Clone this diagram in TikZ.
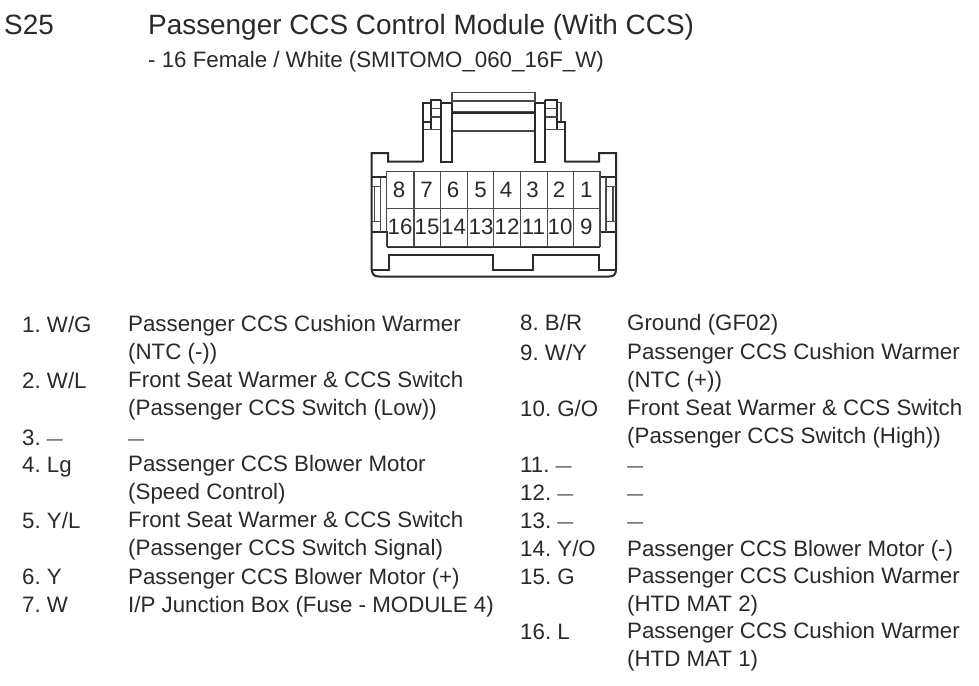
\documentclass[tikz,border=0pt]{standalone}
\usepackage{fontspec}
\setmainfont{Liberation Sans}
\frenchspacing
\definecolor{ink}{HTML}{2A2A2A}
\newcommand{\pindash}{{\fontsize{16}{28}\selectfont\raisebox{1.5pt}{---}}}
\tikzset{
  x=1pt,y=-1pt,
  entry/.style={anchor=north west,inner sep=0pt,align=left,text=ink,font=\fontsize{22.3}{28}\selectfont,execute at begin node=\strut},
  entrytwo/.style={entry,yshift=-2pt},
  titletext/.style={anchor=north west,inner sep=0pt,text=ink,font=\fontsize{27.9}{28}\selectfont,execute at begin node=\strut},
  subtext/.style={anchor=north west,inner sep=0pt,text=ink,font=\fontsize{22.3}{28}\selectfont,execute at begin node=\strut},
  pinlabel/.style={inner sep=0pt,text=ink,font=\fontsize{22.3}{26}\selectfont},
  heavy/.style={draw=ink,line width=2pt,line join=miter},
  light/.style={draw=ink!85,line width=1.2pt},
}
\begin{document}
\begin{tikzpicture}
\useasboundingbox (0,0) rectangle (979,685);
\fill[white] (0,0) rectangle (979,685);
% headings
\node[titletext] (code) at (4,15) {S25};
\node[titletext] (title) at (148,14) {Passenger CCS Control Module (With CCS)};
\node[subtext] (sub) at (148,48) {- 16 Female / White (SMITOMO\_060\_16F\_W)};
% top latch
\draw[light] (452,92.3) rectangle (535,112);
\draw[light] (452,101) -- (535,101);
\draw[light] (452,131) -- (535,131);
\draw[heavy] (452,113) -- (535,113);
% left latch
\draw[heavy] (423.3,122.3) -- (423.3,102.7) -- (430.7,102.7);
\draw[heavy] (441,102.7) -- (452,102.7);
\draw[heavy] (430.7,129.5) -- (430.7,100) -- (441,100);
\draw[light] (430.7,108.5) -- (441,108.5);
\draw[light] (430.7,117) -- (441,117);
\draw[light] (422.5,129.5) -- (441,129.5);
\draw[heavy] (441,100) -- (441,161.7) -- (452,161.7) -- (452,102.7);
% right latch
\draw[light] (561,122.3) -- (561,102.7) -- (556.7,102.7);
\draw[heavy] (535,102.7) -- (545,102.7);
\draw[heavy] (556.7,129.5) -- (556.7,100) -- (545,100);
\draw[light] (545,108.5) -- (556.7,108.5);
\draw[light] (545,117) -- (556.7,117);
\draw[light] (545,129.5) -- (564.5,129.5);
\draw[heavy] (545,100) -- (545,161.7) -- (535,161.7) -- (535,102.7);
% outer shell
\draw[heavy] (422.5,161.7) -- (422.5,122.3) -- (430.7,122.3);
\draw[heavy] (564.5,161.7) -- (564.5,122.3) -- (556.7,122.3);
\draw[heavy] (422.5,161.7) -- (388,161.7) -- (388,153) -- (371.7,153) -- (371.7,270) .. controls (372.5,274.5) and (374,276.5) .. (379,276.5) -- (609,276.5) .. controls (614,276.5) and (615.5,274.5) .. (616,270) -- (616,153) -- (599,153) -- (599,161.7) -- (564.5,161.7);
% lower keyway
\draw[heavy] (371.7,269.8) -- (389.3,269.8) -- (389.3,255) -- (493.3,255) -- (493.3,269.8) -- (533.3,269.8) -- (533.3,255) -- (598.7,255) -- (598.7,269.8) -- (616,269.8);
\draw[heavy] (386.7,246.7) -- (600,246.7);
% side clips
\draw[heavy] (371.7,177) -- (386.7,177);
\draw[heavy] (371.7,232.3) -- (386.7,232.3) -- (386.7,246.7);
\draw[light] (371.7,186.7) -- (380.7,186.7);
\draw[light] (371.7,221.7) -- (380.7,221.7);
\draw[light] (380.7,177) -- (380.7,232.3);
\draw[light] (374.5,186.7) -- (374.5,221.7);
\draw[heavy] (616,177) -- (600,177);
\draw[heavy] (616,232.3) -- (600,232.3) -- (600,246.7);
\draw[light] (616,186.7) -- (606,186.7);
\draw[light] (616,221.7) -- (606,221.7);
\draw[light] (606,177) -- (606,232.3);
\draw[light] (613,186.7) -- (613,221.7);
% pin grid
\draw[light] (386.7,171.7) rectangle (600,246.7);
\draw[light] (386.7,208.7) -- (600,208.7);
\foreach \cx in {414,440.7,467.3,493.7,520.3,547.3,573.3} \draw[light] (\cx,171.7) -- (\cx,246.7);
% pins
\foreach \n/\cx in {8/399,7/426.5,6/453,5/480.5,4/506,3/532.5,2/559,1/586.3} \node[pinlabel] (p\n) at (\cx,189.5) {\n};
\foreach \n/\cx in {16/400,15/427,14/453.5,13/481,12/507,11/533.5,10/560,9/586.3} \node[pinlabel] (p\n) at (\cx,226.7) {\n};
% left column
\node[entry] (a1) at (22,313) {1. W/G};
\node[entrytwo] (b1) at (128,313) {Passenger CCS Cushion Warmer\\(NTC (-))};
\node[entry] (a2) at (22,369) {2. W/L};
\node[entrytwo] (b2) at (128,369) {Front Seat Warmer \& CCS Switch\\(Passenger CCS Switch (Low))};
\node[entry] (a3) at (22,426) {3. \pindash};
\node[entry] (b3) at (128,426) {\pindash};
\node[entry] (a4) at (22,453) {4. Lg};
\node[entrytwo] (b4) at (128,453) {Passenger CCS Blower Motor\\(Speed Control)};
\node[entry] (a5) at (22,509) {5. Y/L};
\node[entrytwo] (b5) at (128,509) {Front Seat Warmer \& CCS Switch\\(Passenger CCS Switch Signal)};
\node[entry] (a6) at (22,565) {6. Y};
\node[entry] (b6) at (128,565) {Passenger CCS Blower Motor (+)};
\node[entry] (a7) at (22,593) {7. W};
\node[entry] (b7) at (128,593) {I/P Junction Box (Fuse - MODULE 4)};
% right column
\node[entry] (a8) at (520,311) {8. B/R};
\node[entry] (b8) at (627,311) {Ground (GF02)};
\node[entry] (a9) at (520,341) {9. W/Y};
\node[entrytwo] (b9) at (627,341) {Passenger CCS Cushion Warmer\\(NTC (+))};
\node[entry] (a10) at (520,397) {10. G/O};
\node[entrytwo] (b10) at (627,397) {Front Seat Warmer \& CCS Switch\\(Passenger CCS Switch (High))};
\node[entry] (a11) at (520,453) {11. \pindash};
\node[entry] (b11) at (627,453) {\pindash};
\node[entry] (a12) at (520,481) {12. \pindash};
\node[entry] (b12) at (627,481) {\pindash};
\node[entry] (a13) at (520,509) {13. \pindash};
\node[entry] (b13) at (627,509) {\pindash};
\node[entry] (a14) at (520,537) {14. Y/O};
\node[entry] (b14) at (627,537) {Passenger CCS Blower Motor (-)};
\node[entry] (a15) at (520,565) {15. G};
\node[entrytwo] (b15) at (627,565) {Passenger CCS Cushion Warmer\\(HTD MAT 2)};
\node[entry] (a16) at (520,620) {16. L};
\node[entrytwo] (b16) at (627,620) {Passenger CCS Cushion Warmer\\(HTD MAT 1)};
\end{tikzpicture}
\end{document}
